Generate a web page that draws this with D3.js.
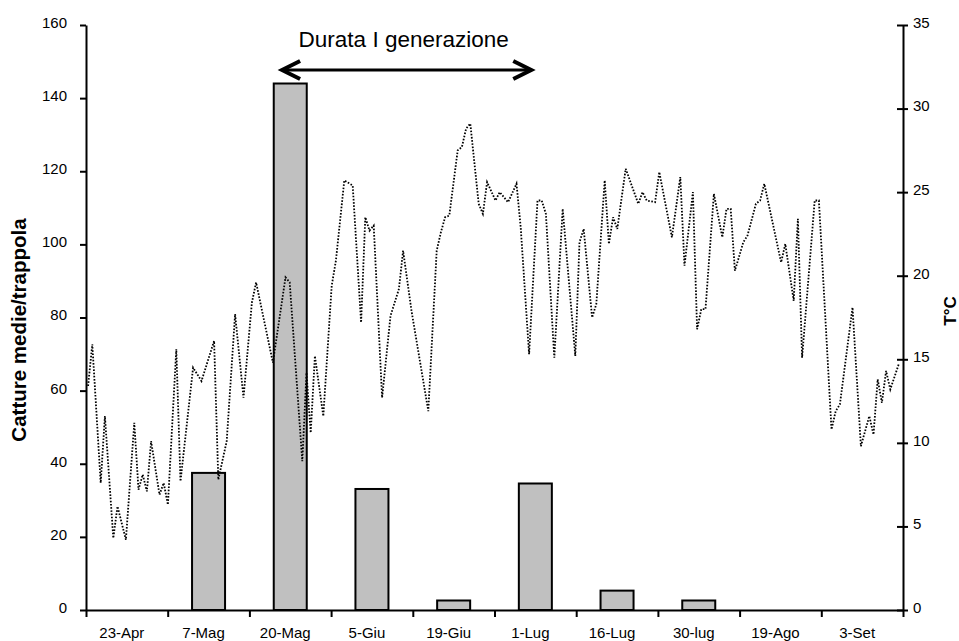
<!DOCTYPE html>
<html>
<head>
<meta charset="utf-8">
<script src="https://cdn.jsdelivr.net/npm/d3@7"></script>
<style>
  body { margin: 0; background: #fff; }
  svg { display: block; font-family: "Liberation Sans", Arial, Helvetica, sans-serif; }
</style>
</head>
<body>
<svg id="chart" width="959" height="641"></svg>
<script>
// Sampling dates and mean catches per trap
const categories = ["23-Apr", "7-Mag", "20-Mag", "5-Giu", "19-Giu", "1-Lug", "16-Lug", "30-lug", "19-Ago", "3-Set"];
const catches = [0, 37.5, 144, 33.1, 2.6, 34.6, 5.3, 2.6, 0, 0];

// Axis ticks
const leftTicks = [0, 20, 40, 60, 80, 100, 120, 140, 160];
const rightTicks = [0, 5, 10, 15, 20, 25, 30, 35];

// Daily temperature (day number from start of the record, °C)
const tempDay = [0, 1, 3, 4, 6, 7, 9, 11, 12, 13,
  14, 15, 17, 18, 19, 21, 22, 25, 27, 30,
  31, 33, 35, 37, 39, 40, 44, 47, 48, 51,
  52, 53, 54, 56, 58, 59, 61, 63, 65, 66,
  67, 68, 70, 72, 74, 75, 77, 80, 81, 83,
  84, 85, 86, 88, 89, 90, 91, 93, 94, 95,
  97, 98, 100, 102, 103, 105, 107, 108, 109, 111,
  113, 116, 117, 118, 120, 121, 123, 124, 125, 126,
  128, 131, 132, 133, 135, 136, 139, 141, 142, 144,
  145, 146, 147, 149, 151, 152, 153, 154, 156, 157,
  159, 160, 161, 165, 166, 168, 169, 170, 173, 174,
  177, 178, 179, 182, 184, 186, 187, 188, 189, 190,
  191, 193];
const tempC = [13.4, 15.9, 7.6, 11.6, 4.3, 6.2, 4.2, 11.2, 7.2, 8.1,
  7.1, 10.1, 6.9, 7.6, 6.3, 15.6, 7.7, 14.5, 13.7, 16.1,
  7.8, 10.1, 17.7, 12.7, 18.4, 19.6, 14.8, 19.9, 19.6, 8.9,
  14.2, 10.6, 15.2, 11.6, 19.4, 20.9, 25.7, 25.4, 17.2, 23.5,
  22.7, 23.0, 12.7, 17.6, 19.2, 21.5, 17.9, 13.4, 11.9, 21.5,
  22.6, 23.5, 23.6, 27.5, 27.7, 28.8, 29.1, 24.3, 23.7, 25.6,
  24.5, 25.0, 24.4, 25.5, 22.9, 15.3, 24.5, 24.5, 23.7, 15.1,
  24.0, 15.2, 22.0, 22.8, 17.5, 18.3, 25.7, 21.9, 23.5, 22.8,
  26.4, 24.3, 25.0, 24.5, 24.4, 26.2, 22.3, 25.9, 20.6, 25.0,
  16.8, 18.0, 18.0, 24.9, 22.3, 24.0, 24.0, 20.3, 22.0, 22.4,
  24.3, 24.5, 25.5, 20.8, 21.9, 18.5, 23.4, 15.1, 24.5, 24.5,
  10.8, 11.9, 12.3, 18.1, 9.8, 11.6, 10.5, 13.8, 12.4, 14.3,
  13.2, 14.7];

const svg = d3.select("#chart");
const L = 86, R = 903, T = 25, B = 610;
const FS = 15;

const x = d3.scaleBand().domain(categories).range([L, R]);
const bw = x.bandwidth();
const xTick = d3.scaleLinear().domain([0, categories.length]).range([L, R]);
const yL = d3.scaleLinear().domain([0, 160]).range([B, T]);
const yR = d3.scaleLinear().domain([0, 35]).range([B, T]);
const xT = d3.scaleLinear().domain([0, 193]).range([88.1, 898.7]);

// Bars: catches per trap
const barData = categories.map((c, i) => ({ c, v: catches[i] })).filter(d => d.v > 0);
svg.append("g").selectAll("rect").data(barData).join("rect")
  .attr("x", d => x(d.c) + bw * 0.298)
  .attr("width", bw * 0.404)
  .attr("y", d => yL(d.v))
  .attr("height", d => yL(0) - yL(d.v))
  .attr("fill", "#c0c0c0")
  .attr("stroke", "#000")
  .attr("stroke-width", 2);

// Dotted temperature line
const line = d3.line().x(d => xT(d[0])).y(d => yR(d[1]));
svg.append("path")
  .datum(d3.zip(tempDay, tempC))
  .attr("d", line)
  .attr("fill", "none")
  .attr("stroke", "#000")
  .attr("stroke-width", 1.8)
  .attr("stroke-dasharray", "1.6,1.6");

function styleAxis(g) {
  g.select(".domain").attr("stroke", "#000").attr("stroke-width", 2);
  g.selectAll(".tick line").attr("stroke", "#000").attr("stroke-width", 2);
  g.selectAll(".tick text").attr("font-size", FS).attr("fill", "#000")
    .attr("font-family", "Liberation Sans, Arial, sans-serif");
}

// Left axis
const gL = svg.append("g").attr("transform", `translate(${L},0)`)
  .call(d3.axisLeft(yL).tickValues(leftTicks).tickSize(6).tickSizeOuter(0).tickPadding(13));
styleAxis(gL);
gL.selectAll(".tick text").attr("dy", "0.16em");

// Right axis
const gR = svg.append("g").attr("transform", `translate(${R},0)`)
  .call(d3.axisRight(yR).tickValues(rightTicks).tickSize(5).tickSizeOuter(0).tickPadding(5));
styleAxis(gR);
gR.selectAll(".tick line").attr("x1", -6);
gR.selectAll(".tick text").attr("dy", "0.16em");

// Bottom axis: ticks between sampling dates
const gB = svg.append("g").attr("transform", `translate(0,${B})`)
  .call(d3.axisBottom(xTick).tickValues(d3.range(categories.length + 1)).tickFormat("").tickSize(7).tickSizeOuter(0));
styleAxis(gB);

// Bottom labels centred on each date
const gBL = svg.append("g").attr("transform", `translate(-5,${B})`)
  .call(d3.axisBottom(x).tickSize(0).tickPadding(17));
gBL.select(".domain").remove();
gBL.selectAll(".tick text").attr("font-size", FS).attr("fill", "#000");

// Axis titles
svg.append("text")
  .attr("transform", "translate(26,330) rotate(-90)")
  .attr("text-anchor", "middle")
  .attr("font-weight", "bold")
  .attr("font-size", 20.5)
  .text("Catture medie/trappola");

svg.append("text")
  .attr("transform", "translate(956,311) rotate(-90)")
  .attr("text-anchor", "middle")
  .attr("font-weight", "bold")
  .attr("font-size", 17)
  .text("T°C");

// First generation duration: double-headed arrow with caption
const ax1 = x("20-Mag") + bw * 0.4;
const ax2 = x("1-Lug") + bw * 0.45;
const ay = 70;
svg.append("line")
  .attr("x1", ax1 + 2).attr("x2", ax2 - 2).attr("y1", ay).attr("y2", ay)
  .attr("stroke", "#000").attr("stroke-width", 3);
const head = 18, half = 9;
svg.append("path")
  .attr("d", `M${ax1 + head},${ay - half}L${ax1},${ay}L${ax1 + head},${ay + half}`)
  .attr("fill", "none").attr("stroke", "#000").attr("stroke-width", 4).attr("stroke-linejoin", "miter");
svg.append("path")
  .attr("d", `M${ax2 - head},${ay - half}L${ax2},${ay}L${ax2 - head},${ay + half}`)
  .attr("fill", "none").attr("stroke", "#000").attr("stroke-width", 4).attr("stroke-linejoin", "miter");

svg.append("text")
  .attr("x", (ax1 + ax2) / 2 - 3)
  .attr("y", 47)
  .attr("text-anchor", "middle")
  .attr("font-size", 22.5)
  .text("Durata I generazione");
</script>
</body>
</html>
